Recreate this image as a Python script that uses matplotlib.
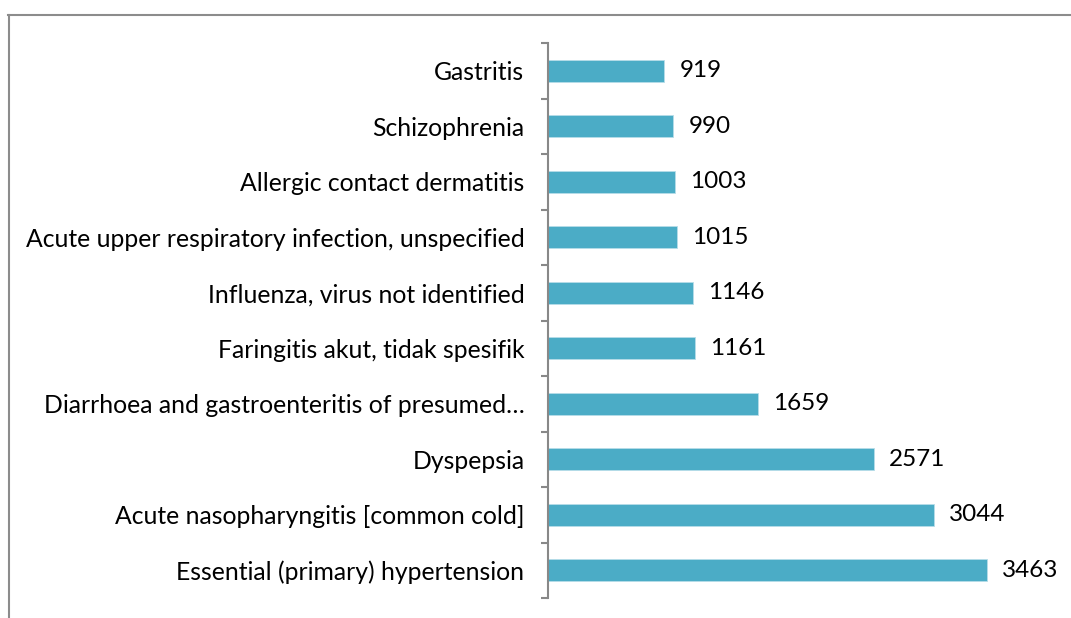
import matplotlib.pyplot as plt
from matplotlib.lines import Line2D

# categories listed bottom-to-top as Excel draws them
diseases = [
    "Essential (primary) hypertension",
    "Acute nasopharyngitis [common cold]",
    "Dyspepsia",
    "Diarrhoea and gastroenteritis of presumed\u2026",
    "Faringitis akut, tidak spesifik",
    "Influenza, virus not identified",
    "Acute upper respiratory infection, unspecified",
    "Allergic contact dermatitis",
    "Schizophrenia",
    "Gastritis",
]
counts = [3463, 3044, 2571, 1659, 1161, 1146, 1015, 1003, 990, 919]

plt.rcParams['font.family'] = ['Lato', 'DejaVu Sans']

W, H = 1071, 618
fig = plt.figure(figsize=(W / 100, H / 100), dpi=100)

# axes placed in pixel terms: axis line at x=548, y from 43 to 598
ax = fig.add_axes([548 / W, 1 - 598 / H, (1055 - 548) / W, (598 - 43) / H])

ypos = range(len(diseases))
ax.barh(ypos, counts, height=0.4, color='#4BACC6', edgecolor='#B7DDE8', linewidth=0.6)
for y, v in zip(ypos, counts):
    ax.text(v + 120, y, str(v), va='center', ha='left', fontsize=17.5, color='#000000')

ax.set_xlim(0, 4000)
ax.set_ylim(-0.5, len(diseases) - 0.5)
ax.set_yticks(list(ypos))
ax.set_yticklabels(diseases, fontsize=17.8)
ax.set_yticks([i - 0.5 for i in range(len(diseases) + 1)], minor=True)
ax.tick_params(axis='y', which='major', length=0, pad=17)
ax.tick_params(axis='y', which='minor', length=5, width=1.5, color='#888888')
ax.set_xticks([])
for s in ['top', 'right', 'bottom']:
    ax.spines[s].set_visible(False)
ax.spines['left'].set_color('#888888')
ax.spines['left'].set_linewidth(1.5)

# chart-area frame (only top and left edges visible in the crop)
fig.add_artist(Line2D([8 / W, 1], [1 - 15 / H, 1 - 15 / H], color='#8C8C8C', lw=1.5,
                      transform=fig.transFigure))
fig.add_artist(Line2D([9 / W, 9 / W], [0, 1 - 15 / H], color='#8C8C8C', lw=1.5,
                      transform=fig.transFigure))

fig.savefig('out.png', dpi=100)
